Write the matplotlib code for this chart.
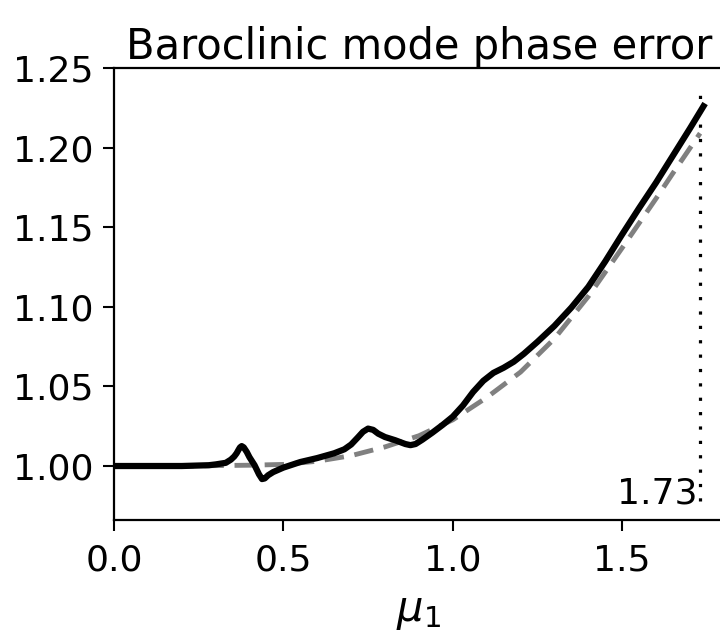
import numpy as np
import matplotlib
matplotlib.use("Agg")
import matplotlib.pyplot as plt

# phase error of the numerical scheme (black) vs reference (gray dashed)
mu_num = [0.0, 0.1, 0.2, 0.28, 0.3, 0.33, 0.345, 0.355, 0.362, 0.368, 0.372, 0.377, 0.383,
          0.392, 0.40, 0.415, 0.428, 0.437, 0.445, 0.455, 0.47, 0.5, 0.55, 0.6, 0.65,
          0.68, 0.7, 0.72, 0.735, 0.75, 0.765, 0.78, 0.8, 0.83, 0.86, 0.875, 0.89, 0.91,
          0.94, 0.97, 1.0, 1.03, 1.06, 1.09, 1.12, 1.15, 1.18, 1.21, 1.25, 1.3, 1.35,
          1.4, 1.45, 1.5, 1.55, 1.6, 1.65, 1.7, 1.74]
err_num = [1.0, 1.0, 1.0, 1.0005, 1.001, 1.002, 1.004, 1.006, 1.008, 1.0103, 1.0117, 1.0125, 1.0117,
           1.0088, 1.0055, 1.0005, 0.9948, 0.9918, 0.9922, 0.9942, 0.9962, 0.999, 1.0025, 1.005, 1.008,
           1.0105, 1.0135, 1.018, 1.0215, 1.0235, 1.0227, 1.0203, 1.0182, 1.0162, 1.0138, 1.0131, 1.0138, 1.0165,
           1.021, 1.0258, 1.031, 1.038, 1.0465, 1.0535, 1.0585, 1.0617, 1.0655, 1.0705, 1.078, 1.088, 1.0995,
           1.1125, 1.1285, 1.1455, 1.162, 1.178, 1.195, 1.212, 1.226]

mu_ref = [0.0, 0.2, 0.4, 0.5, 0.6, 0.7, 0.8, 0.9, 1.0, 1.1, 1.2, 1.3, 1.4, 1.5, 1.6, 1.65, 1.73]
err_ref = [1.0, 1.0, 1.0005, 1.001, 1.003, 1.0065, 1.012, 1.019, 1.029, 1.043, 1.059, 1.080,
           1.1065, 1.137, 1.168, 1.184, 1.209]

mu_max = 1.73
mu_max_label = "1.73"

fig = plt.figure(figsize=(7.2, 6.37), dpi=100)
ax = fig.add_axes([0.1583, 0.1837, 0.847, 0.7096])

ax.plot(mu_ref, err_ref, color="gray", lw=3.5, ls=(0, (4, 2.2)))
ax.plot(mu_num, err_num, color="black", lw=4.5, solid_joinstyle="round")
ax.vlines(mu_max, 0.978, 1.238, color="black", lw=2.3, linestyles=[(0, (1, 3.5))])
ax.text(mu_max - 0.008, 0.972, mu_max_label, ha="right", va="bottom", fontsize=26)

ax.set_xlim(0, 1.8)
ax.set_ylim(0.9661, 1.25)
ax.set_xticks([0.0, 0.5, 1.0, 1.5])
ax.set_yticks([1.00, 1.05, 1.10, 1.15, 1.20, 1.25])
ax.tick_params(labelsize=26, length=8, width=1.5)
ax.tick_params(axis="x", pad=9)
ax.tick_params(axis="y", pad=7)
for s in ax.spines.values():
    s.set_linewidth(1.6)
ax.spines["right"].set_visible(False)

ax.set_title("Baroclinic mode phase error", fontsize=30)
ax.set_xlabel(r"$\mu_1$", fontsize=30, labelpad=9)

fig.savefig("out.png", dpi=100)
